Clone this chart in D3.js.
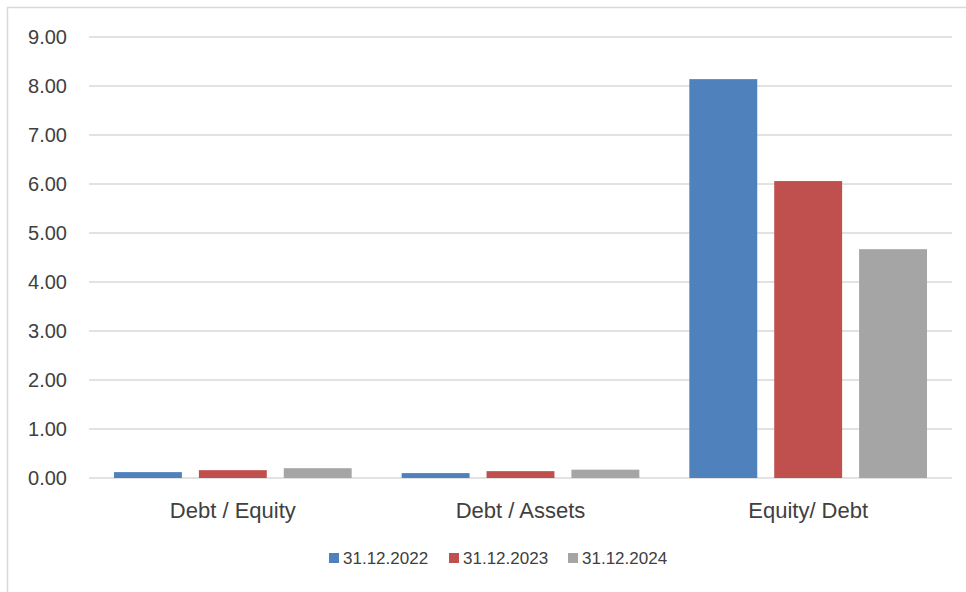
<!DOCTYPE html>
<html>
<head>
<meta charset="utf-8">
<script src="https://cdn.jsdelivr.net/npm/d3@7"></script>
<style>
body { margin:0; background:#fff; }
text { font-family: "Liberation Sans", Arial, sans-serif; fill:#404040; }
</style>
</head>
<body>
<svg id="graph"></svg>
<script>
// values
var categories = ["Debt / Equity", "Debt / Assets", "Equity/ Debt"]
var seriesNames = ["31.12.2022", "31.12.2023", "31.12.2024"]
var colors = ["#4f81bd", "#c0504d", "#a5a5a5"]
var v2022 = [0.12, 0.10, 8.14]
var v2023 = [0.16, 0.14, 6.06]
var v2024 = [0.20, 0.17, 4.67]
var tickValues = [0, 1, 2, 3, 4, 5, 6, 7, 8, 9]

var screen = {width:966, height:592}
var svg = d3.select("#graph")
	.attr("width", screen.width)
	.attr("height", screen.height)

// chart frame
svg.append("path")
	.attr("d", "M7.5,592 L7.5,7.5 L966,7.5")
	.attr("fill", "none")
	.attr("stroke", "#d9d9d9")
	.attr("stroke-width", 1.5)

var xScale = d3.scaleBand()
	.domain(categories)
	.range([89, 952])
var xInner = d3.scaleBand()
	.domain(seriesNames)
	.range([25, xScale.bandwidth() - 25])
	.paddingInner(0.2)
var yScale = d3.scaleLinear()
	.domain([0, 9])
	.range([478, 37])

// gridlines
svg.append("g")
	.selectAll("line")
	.data(tickValues)
	.enter()
	.append("line")
	.attr("x1", 89)
	.attr("x2", 952)
	.attr("y1", function (d) { return yScale(d) })
	.attr("y2", function (d) { return yScale(d) })
	.attr("stroke", "#d9d9d9")
	.attr("stroke-width", 1.5)

// y labels
svg.append("g")
	.selectAll("text")
	.data(tickValues)
	.enter()
	.append("text")
	.attr("x", 67)
	.attr("y", function (d) { return yScale(d) })
	.attr("dy", "0.36em")
	.attr("text-anchor", "end")
	.style("font-size", "20px")
	.text(function (d) { return d3.format(".2f")(d) })

var series = [v2022, v2023, v2024]
var groups = svg.append("g")
	.selectAll("g")
	.data(series)
	.enter()
	.append("g")
	.attr("fill", function (d, i) { return colors[i] })

groups.selectAll("rect")
	.data(function (d, i) {
		return d.map(function (v, j) { return {cat:categories[j], s:seriesNames[i], v:v} })
	})
	.enter()
	.append("rect")
	.attr("x", function (d) { return xScale(d.cat) + xInner(d.s) })
	.attr("width", xInner.bandwidth())
	.attr("y", function (d) { return yScale(d.v) })
	.attr("height", function (d) { return yScale(0) - yScale(d.v) })

// category labels
svg.append("g")
	.selectAll("text")
	.data(categories)
	.enter()
	.append("text")
	.attr("x", function (d) { return xScale(d) + xScale.bandwidth() / 2 })
	.attr("y", 518)
	.attr("text-anchor", "middle")
	.style("font-size", "22px")
	.text(function (d) { return d })

// legend
var legendX = [329, 449, 568]
var legend = svg.append("g")
	.selectAll("g")
	.data(seriesNames)
	.enter()
	.append("g")
	.attr("transform", function (d, i) { return "translate(" + legendX[i] + ",553)" })
legend.append("rect")
	.attr("width", 10)
	.attr("height", 10)
	.attr("fill", function (d, i) { return colors[i] })
legend.append("text")
	.attr("x", 14)
	.attr("y", 11)
	.style("font-size", "17px")
	.text(function (d) { return d })
</script>
</body>
</html>
